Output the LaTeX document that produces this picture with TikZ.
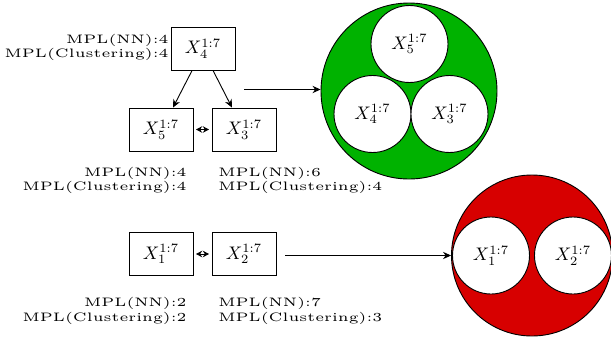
\documentclass[tikz,border=0pt]{standalone}
\usepackage{graphicx}
\usetikzlibrary{arrows.meta,calc}
\definecolor{clgreen}{RGB}{0,178,0}
\definecolor{clred}{RGB}{215,0,0}
% two-line MPL annotations, right or left aligned
\newcommand\mplright[2]{\scalebox{1.6}[1.35]{\fontsize{5}{6.1}\selectfont\begin{tabular}[t]{@{}r@{}}#1\\#2\end{tabular}}}
\newcommand\mplleft[2]{\scalebox{1.6}[1.35]{\fontsize{5}{6.1}\selectfont\begin{tabular}[t]{@{}l@{}}#1\\#2\end{tabular}}}
\begin{document}
\begin{tikzpicture}[x=0.55pt,y=-0.55pt,
  var/.style={draw,line width=0.5pt,minimum width=35.2pt,minimum height=23.65pt,inner sep=0pt},
  member/.style={circle,draw,fill=white,line width=0.5pt,minimum size=42.35pt,inner sep=0pt},
  group/.style={circle,draw,line width=0.5pt,inner sep=0pt},
  note/.style={inner sep=0pt},
  link/.style={-{Stealth[length=4.4pt,width=4pt]},line width=0.5pt},
  pair/.style={{Stealth[length=3.4pt,width=3.6pt]}-{Stealth[length=3.4pt,width=3.6pt]},line width=0.5pt,shorten <=1.4pt,shorten >=1.4pt}]
\useasboundingbox (0,0) rectangle (611,338);

% variables of the first group
\node[var] (x4) at (203,48.5) {$X_4^{1:7}$};
\node[var] (x5) at (161,129.5) {$X_5^{1:7}$};
\node[var] (x3) at (244,129.5) {$X_3^{1:7}$};
% variables of the second group
\node[var] (x1) at (161,254) {$X_1^{1:7}$};
\node[var] (x2) at (244,254) {$X_2^{1:7}$};

% MPL annotations
\node[note,anchor=base east] at (169,43) {\mplright{MPL(NN):4}{MPL(Clustering):4}};
\node[note,anchor=base east] at (187,176) {\mplright{MPL(NN):4}{MPL(Clustering):4}};
\node[note,anchor=base west] at (218,176) {\mplleft{MPL(NN):6}{MPL(Clustering):4}};
\node[note,anchor=base east] at (187,306.5) {\mplright{MPL(NN):2}{MPL(Clustering):2}};
\node[note,anchor=base west] at (218,306.5) {\mplleft{MPL(NN):7}{MPL(Clustering):3}};

% edges
\draw[link] ([xshift=-6pt]x4.south) -- ([xshift=6.6pt]x5.north);
\draw[link] ([xshift=5.5pt]x4.south) -- ([xshift=-6.6pt]x3.north);
\draw[pair] (x5.east) -- (x3.west);
\draw[pair] (x1.east) -- (x2.west);

% merged groups
\node[group,fill=clgreen,minimum size=96.8pt] (g1) at (409,91) {};
\node[member] (c5) at (409.5,44) {$X_5^{1:7}$};
\node[member] (c4) at (372.5,114) {$X_4^{1:7}$};
\node[member] (c3) at (449.5,114) {$X_3^{1:7}$};

\node[group,fill=clred,minimum size=88.55pt] (g2) at (532,255.5) {};
\node[member] (c1) at (491,255.5) {$X_1^{1:7}$};
\node[member] (c2) at (573,255.5) {$X_2^{1:7}$};

\coordinate (s1) at (244,89.5);
\coordinate (s2) at (285,255.5);
\draw[link] (s1) -- (s1 -| g1.west);
\draw[link] (s2) -- (s2 -| g2.west);
\end{tikzpicture}
\end{document}
